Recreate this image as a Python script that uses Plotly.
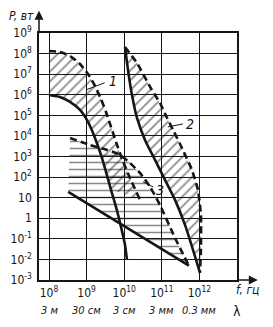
import plotly.graph_objects as go

# ---- data (log10 f [Hz], log10 P [W]) ----
r1_upper_logf = [8.0, 8.293, 8.559, 8.824, 9.037, 9.223, 9.383, 9.516, 9.649, 9.782, 9.941, 10.154, 10.42]
r1_upper_logp = [8.126, 8.078, 7.883, 7.495, 7.01, 6.427, 5.796, 5.165, 4.437, 3.709, 2.883, 1.961, 0.893]
r1_lower_logf = [8.0, 8.293, 8.559, 8.824, 9.037, 9.223, 9.383, 9.516, 9.649, 9.782, 9.915, 10.021, 10.074]
r1_lower_logp = [5.99, 5.893, 5.65, 5.262, 4.68, 3.903, 3.078, 2.252, 1.379, 0.553, -0.417, -1.291, -2.019]

r2_left_logf = [10.021, 10.101, 10.207, 10.34, 10.553, 10.819, 11.085, 11.351, 11.617, 11.83, 12.016]
r2_left_logp = [8.32, 7.204, 5.99, 4.874, 3.806, 2.835, 1.864, 0.893, -0.32, -1.534, -2.65]
r2_right_logf = [10.02, 10.34, 10.69, 10.95, 11.14, 11.3, 11.56, 11.8, 11.96, 12.04, 12.04, 12.016]
r2_right_logp = [8.32, 7.54, 6.38, 5.6, 4.87, 4.29, 3.32, 2.35, 1.38, 0.17, -1.53, -2.65]

r3_upper_logf = [8.56, 9.09, 9.54, 9.89, 10.15, 10.42, 10.69, 10.95, 11.35, 11.72]
r3_upper_logp = [3.9, 3.56, 3.32, 3.08, 2.69, 2.2, 1.52, 0.65, -0.95, -2.3]
r3_lower_logf = [8.51, 11.72]
r3_lower_logp = [1.28, -2.3]

freq_ticks_exp = [8, 9, 10, 11, 12]
power_ticks_exp = [9, 8, 7, 6, 5, 4, 3, 2, 1, 0, -1, -2, -3]
wavelength_labels = ["3 м", "30 см", "3 см", "3 мм", "0.3 мм"]

region_labels = ["1", "2", "3"]
label_pos_logf = [9.53, 11.58, 10.79]
label_pos_logp = [6.65, 4.6, 1.35]
leader_from_logf = [9.0, 11.16, 10.5]
leader_from_logp = [6.25, 4.44, 1.77]
leader_to_logf = [9.48, 11.56, 10.77]
leader_to_logp = [6.58, 4.58, 1.52]

INK = "#161616"
FONT = "DejaVu Sans Condensed, Liberation Sans Narrow, Liberation Sans, sans-serif"


def pw(v):
    return [10 ** e for e in v]


fig = go.Figure()

hatch_diag = dict(shape="/", fgcolor=INK, bgcolor="rgba(0,0,0,0)", size=7, solidity=0.25)
hatch_flat = dict(shape="-", fgcolor=INK, bgcolor="rgba(0,0,0,0)", size=7, solidity=0.22)

# region 1: upper dashed + upper part of lower solid
k = max(i for i, p in enumerate(r1_lower_logp) if p >= 0.9)
poly_f = r1_upper_logf + r1_lower_logf[:k + 1][::-1]
poly_p = r1_upper_logp + r1_lower_logp[:k + 1][::-1]
fig.add_trace(go.Scatter(x=pw(poly_f), y=pw(poly_p), mode="none", fill="toself",
                         fillcolor="rgba(0,0,0,0)", fillpattern=hatch_diag,
                         hoverinfo="skip", showlegend=False))
# region 2
poly_f = r2_left_logf + r2_right_logf[::-1]
poly_p = r2_left_logp + r2_right_logp[::-1]
fig.add_trace(go.Scatter(x=pw(poly_f), y=pw(poly_p), mode="none", fill="toself",
                         fillcolor="rgba(0,0,0,0)", fillpattern=hatch_diag,
                         hoverinfo="skip", showlegend=False))
# region 3
poly_f = r3_upper_logf + r3_lower_logf[::-1]
poly_p = r3_upper_logp + r3_lower_logp[::-1]
fig.add_trace(go.Scatter(x=pw(poly_f), y=pw(poly_p), mode="none", fill="toself",
                         fillcolor="rgba(0,0,0,0)", fillpattern=hatch_flat,
                         hoverinfo="skip", showlegend=False))


def line(fx, px, dash="solid", w=2.6):
    fig.add_trace(go.Scatter(x=pw(fx), y=pw(px), mode="lines",
                             line=dict(color=INK, width=w, dash=dash, shape="spline", smoothing=0.5),
                             hoverinfo="skip", showlegend=False))


line(r1_upper_logf, r1_upper_logp, dash="7px,4px")
line(r1_lower_logf, r1_lower_logp)
line(r2_left_logf, r2_left_logp)
line(r2_right_logf, r2_right_logp, dash="7px,4px")
line(r3_upper_logf, r3_upper_logp, dash="7px,4px")
line(r3_lower_logf, r3_lower_logp)

for i in range(3):
    fig.add_trace(go.Scatter(x=pw([leader_from_logf[i], leader_to_logf[i]]),
                             y=pw([leader_from_logp[i], leader_to_logp[i]]),
                             mode="lines", line=dict(color=INK, width=1),
                             hoverinfo="skip", showlegend=False))

annotations = []
for i, t in enumerate(region_labels):
    annotations.append(dict(x=label_pos_logf[i], y=label_pos_logp[i], xref="x", yref="y",
                            text=t, showarrow=False, xanchor="left", yanchor="middle",
                            font=dict(family=FONT, size=14, color=INK, style="italic")))

for e, t in zip(freq_ticks_exp, wavelength_labels):
    annotations.append(dict(x=e, y=-0.125, xref="x", yref="paper", text=t, showarrow=False,
                            xanchor="center", yanchor="middle",
                            font=dict(family=FONT, size=11, color=INK, style="italic")))
annotations.append(dict(x=13.0, y=-0.125, xref="x", yref="paper", text="λ", showarrow=False,
                        xanchor="center", yanchor="middle",
                        font=dict(family=FONT, size=14, color=INK)))
annotations.append(dict(x=0.985, y=-0.04, xref="paper", yref="paper", text="f, гц", showarrow=False,
                        xanchor="left", yanchor="middle",
                        font=dict(family=FONT, size=12, color=INK, style="italic")))
annotations.append(dict(x=-0.015, y=1.07, xref="paper", yref="paper", text="P, вт", showarrow=False,
                        xanchor="right", yanchor="middle",
                        font=dict(family=FONT, size=12, color=INK, style="italic")))
annotations.append(dict(x=1.105, y=0, xref="paper", yref="paper", ax=-22, ay=0,
                        axref="pixel", ayref="pixel", text="", showarrow=True,
                        arrowhead=2, arrowsize=1.2, arrowwidth=1.5, arrowcolor=INK))
annotations.append(dict(x=0, y=1.09, xref="paper", yref="paper", ax=0, ay=24,
                        axref="pixel", ayref="pixel", text="", showarrow=True,
                        arrowhead=2, arrowsize=1.2, arrowwidth=1.5, arrowcolor=INK))


def sup(e):
    if e == 0:
        return "1"
    if e == 1:
        return "10"
    return "10<sup>%d</sup>" % e


fig.update_layout(
    width=273, height=327, autosize=False,
    margin=dict(l=39, r=36, t=33, b=47, pad=0),
    paper_bgcolor="white", plot_bgcolor="white",
    annotations=annotations,
    xaxis=dict(type="log", range=[7.734, 13.0],
               tickvals=pw(freq_ticks_exp), ticktext=[sup(e) for e in freq_ticks_exp],
               showgrid=True, gridcolor=INK, gridwidth=1.1, zeroline=False,
               showline=True, linecolor=INK, linewidth=1.6, mirror=True, ticks="",
               ticklabelstandoff=1,
               tickfont=dict(family=FONT, size=12, color=INK)),
    yaxis=dict(type="log", range=[-3, 9],
               tickvals=pw(power_ticks_exp), ticktext=[sup(e) for e in power_ticks_exp],
               showgrid=True, gridcolor=INK, gridwidth=1.1, zeroline=False,
               showline=True, linecolor=INK, linewidth=1.6, mirror=True, ticks="",
               ticklabelstandoff=3,
               tickfont=dict(family=FONT, size=12, color=INK)),
)

fig.write_html("out.html")
